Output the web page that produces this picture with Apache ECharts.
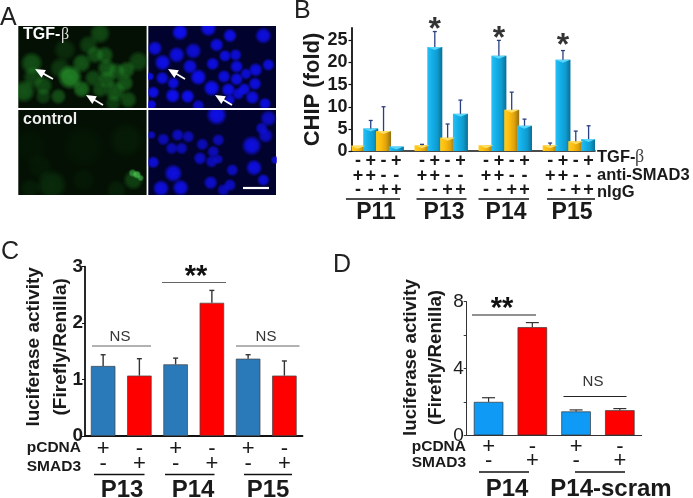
<!DOCTYPE html>
<html><head><meta charset="utf-8">
<style>html,body{margin:0;padding:0;background:#fff}#c{width:693px;height:498px}</style>
<script src="https://cdn.jsdelivr.net/npm/echarts@6/dist/echarts.min.js"></script></head>
<body><div id="c"></div>
<script>
// ---------- Panel B
const bCategories = ['1','2','3','4','g1','5','6','7','8','g2','9','10','11','12','g3','13','14','15','16'];
const bValues = [1.2,5.1,4.5,1.0,null,1.3,23.5,3.0,8.4,null,1.3,21.5,9.3,5.7,null,1.3,20.6,2.2,2.7];
const bErrTop = [1.2,6.9,10,1.0,null,1.5,27,6.1,11.5,null,1.3,25,13.3,7.2,null,1.8,22.7,4.5,5.7];
const bKinds = ['o','b','o','b',null,'o','b','o','b',null,'o','b','o','b',null,'o','b','o','b'];
const bTgf = ['-','+','-','+','','-','+','-','+','','-','+','-','+','','-','+','-','+'];
const bSmad = ['+','+','-','-','','+','+','-','-','','+','+','-','-','','+','+','-','-'];
const bIgg = ['-','-','+','+','','-','-','+','+','','-','-','+','+','','-','-','+','+'];
const bStars = [[6,27],[11,25],[16,23.4]];
const bTicks = [0,5,10,15,20,25];
// ---------- Panel C
const cCategories = ['a','b','c','d','e','f'];
const cValues = [1.24,1.07,1.27,2.36,1.37,1.07];
const cErrTop = [1.44,1.37,1.38,2.58,1.44,1.33];
const cPcdna = ['+','-','+','-','+','-'];
const cSmad = ['-','+','-','+','-','+'];
const cColors = ['#2a7ab9','#fe0000','#2a7ab9','#fe0000','#2a7ab9','#fe0000'];
// ---------- Panel D
const dCategories = ['a','b','c','d'];
const dValues = [2.0,6.47,1.43,1.5];
const dErrTop = [2.25,6.75,1.52,1.6];
const dPcdna = ['+','-','+','-'];
const dSmad = ['-','+','-','+'];
const dColors = ['#0f9bf5','#fe0000','#0f9bf5','#fe0000'];
// ---------- Panel A (cells: x, y, radius in the photo's own units, brightness)
const cellsTopGreen = [[300,100,26,.5],[265,135,24,.4],[195,150,28,.25],[285,165,22,.55],[315,165,22,.55],[95,190,28,.55],[245,190,24,.6],[180,205,26,.35],[210,232,30,1],[320,205,24,.6],[350,215,22,.55],[380,210,22,.6],[415,185,26,.45],[100,232,26,.45],[280,235,22,.5],[320,240,22,.6],[375,250,22,.6],[130,258,24,.5],[245,268,22,.75],[72,275,28,.6],[175,290,20,.55],[130,290,20,.4],[345,275,26,.6],[300,270,20,.5],[385,300,22,.5],[340,310,20,.4]];
const cellsTopBlue = [[540,97,21,1],[625,85,21,.95],[690,107,18,.95],[790,107,21,.9],[650,135,18,.9],[465,145,19,.9],[530,165,21,.9],[580,153,21,.85],[675,168,16,.9],[707,165,16,.85],[488,188,21,.95],[570,200,19,.9],[638,192,17,.9],[805,195,16,.9],[710,200,17,.9],[767,210,18,.9],[738,222,15,.85],[450,230,11,.9],[487,235,17,.9],[595,232,21,1],[672,230,17,.9],[710,238,17,.9],[520,250,16,.9],[765,252,17,.9],[635,265,21,1],[733,268,16,.9],[685,270,18,.95],[715,282,16,.85],[460,278,16,.95],[518,288,19,1],[563,290,18,1],[757,293,18,.9],[795,312,16,.9],[595,318,16,.8],[455,315,13,.9],[690,300,14,.85]];
const cellsBottomGreen = [[155,555,36,.3],[380,420,42,.12],[120,500,30,.1],[400,540,24,.55],[90,565,24,.15],[350,570,24,.18],[250,440,50,.07],[90,440,40,.06],[250,540,28,.1]];
const cellsBottomBright = [[398,519,10,.45],[411,524,10,.6],[422,534,8,.45]];
const cellsBottomBlue = [[650,345,26,1],[805,355,21,.8],[785,385,16,.8],[797,407,19,.8],[455,405,11,.75],[533,405,16,.8],[490,418,16,.75],[565,410,16,.75],[515,445,16,.75],[545,445,16,.75],[655,420,16,.75],[607,433,16,.75],[755,437,25,.95],[640,455,16,.75],[600,475,17,.8],[635,485,16,.75],[655,478,13,.7],[460,487,16,.9],[825,480,11,.85],[520,520,23,.95],[762,503,21,.95],[697,510,16,.8],[790,540,16,.9],[632,548,18,.85],[690,555,16,.8],[483,565,21,.95],[542,563,21,.95],[670,570,16,.75]];

const F = '"Liberation Sans", Arial, sans-serif';
const DARK = '#1a1a1a';

function grad(stops){return {type:'linear',x:0,y:0,x2:1,y2:0,colorStops:stops.map((c,i)=>({offset:i/(stops.length-1),color:c}))};}
const blue3d = grad(['#27c0f5','#12aee8','#0f9ccf','#0a6f96']);
const orange3d = grad(['#ffcb1e','#fdbd0d','#e0a30c','#8f7015']);

function errSeries(xi, yi, err, vals, color, capW, lw, z){
  return {type:'custom',xAxisIndex:xi,yAxisIndex:yi,z:z||5,silent:true,
    data:err.map((e,i)=>[i,vals[i],e]),
    encode:{x:0,y:[1,2]},
    renderItem(p,api){
      if(api.value(2)==null||isNaN(api.value(2))||api.value(1)==null||isNaN(api.value(1)))return;
      if(api.value(2)<=api.value(1))return;
      const a=api.coord([api.value(0),api.value(1)]),b=api.coord([api.value(0),api.value(2)]);
      const st={stroke:color,lineWidth:lw,fill:null};
      return {type:'group',children:[
        {type:'line',shape:{x1:a[0],y1:a[1],x2:b[0],y2:b[1]},style:st},
        {type:'line',shape:{x1:b[0]-capW/2,y1:b[1],x2:b[0]+capW/2,y2:b[1]},style:st}]};
    }};
}
function cellSeries(gi, data, rgb, gain, spread){
  return {type:'custom',xAxisIndex:gi,yAxisIndex:gi,clip:true,silent:true,z:2,data,
    encode:{x:0,y:1},
    renderItem(p,api){
      const c=api.coord([api.value(0),api.value(1)]);
      const r=api.size([api.value(2),0])[0], b=Math.min(1,api.value(3)*gain);
      return {type:'circle',shape:{cx:c[0],cy:c[1],r:r*spread},style:{fill:{type:'radial',x:.5,y:.5,r:.5,colorStops:[
        {offset:0,color:`rgba(${rgb},${b})`},{offset:.55,color:`rgba(${rgb},${b*.88})`},{offset:.8,color:`rgba(${rgb},${b*.4})`},{offset:1,color:`rgba(${rgb},0)`}]}}};
    }};
}
const bevelSeries = {type:'custom',xAxisIndex:4,yAxisIndex:4,z:4,silent:true,
  data:bValues.map((v,i)=>[i,v,bKinds[i]==='b'?1:0]),encode:{x:0,y:1},
  renderItem(p,api){
    if(isNaN(api.value(1))||api.value(1)==null)return;
    const c=api.coord([api.value(0),api.value(1)]);
    return {type:'polygon',shape:{points:[[c[0]-7.5,c[1]],[c[0]+7.5,c[1]],[c[0],c[1]+3]]},
      style:{fill:api.value(2)?'#5ad6fb':'#ffdf66'}};
  }};
const photoBox = [
  {l:18.3,t:26,w:128.3,h:82,x:[55,440],y:[78,325]},
  {l:148.3,t:26,w:127.7,h:82,x:[445,828],y:[78,325]},
  {l:18.3,t:110,w:128.3,h:85,x:[55,440],y:[330,585]},
  {l:148.3,t:110,w:127.7,h:85,x:[445,828],y:[330,585]}];
const grids = photoBox.map(b=>({left:b.l,top:b.t,width:b.w,height:b.h,show:true,backgroundColor:b.x[0]<100?'#031003':'#02022e',borderWidth:0}));
const xAxes = photoBox.map((b,i)=>({gridIndex:i,type:'value',min:b.x[0],max:b.x[1],show:false}));
const yAxes = photoBox.map((b,i)=>({gridIndex:i,type:'value',min:b.y[0],max:b.y[1],inverse:true,show:false}));

grids.push({left:351.5,top:28,width:243.5,height:123});
grids.push({left:85,top:266.7,width:217.5,height:169.3});
grids.push({left:466.7,top:301.7,width:175,height:133.6});

const labelRows = (rows)=>(v,i)=>rows.map(r=>r[i]).join('\n');
const axisLine=(w,c)=>({show:true,onZero:false,lineStyle:{color:c||'#111',width:w}});

xAxes.push({gridIndex:4,type:'category',data:bCategories,axisLine:axisLine(1.6),axisTick:{show:false},
  axisLabel:{interval:0,margin:3,formatter:labelRows([bTgf,bSmad,bIgg]),fontFamily:F,fontWeight:'bold',fontSize:18,lineHeight:14.4,color:DARK}});
yAxes.push({gridIndex:4,type:'value',min:0,max:27.8,
  axisLine:axisLine(1.8),splitLine:{show:false},
  axisTick:{show:true,length:3,lineStyle:{color:'#111',width:1.2},customValues:bTicks},
  axisLabel:{customValues:bTicks,margin:4,fontFamily:F,fontWeight:'bold',fontSize:18,color:DARK},
  name:'CHIP (fold)',nameLocation:'middle',nameRotate:90,nameGap:27,
  nameTextStyle:{fontFamily:F,fontWeight:'bold',fontSize:22,color:DARK,letterSpacing:.6}});

xAxes.push({gridIndex:5,type:'category',data:cCategories,axisLine:axisLine(1.8),axisTick:{show:false},
  axisLabel:{interval:0,margin:5,formatter:labelRows([cPcdna,cSmad]),fontFamily:F,fontSize:22,lineHeight:15,color:DARK}});
yAxes.push({gridIndex:5,type:'value',min:0,max:3,interval:1,axisLine:axisLine(1.8),splitLine:{show:false},
  axisTick:{show:true,length:3,lineStyle:{color:'#111'}},
  axisLabel:{margin:2,fontFamily:F,fontWeight:'bold',fontSize:19,color:DARK},
  name:'luciferase activity\n(Firefly/Renilla)',nameLocation:'middle',nameRotate:90,nameGap:11,nameMoveOverlap:false,
  nameTextStyle:{fontFamily:F,fontWeight:'bold',fontSize:19,lineHeight:27,color:DARK,padding:[0,0,0,9]}});

xAxes.push({gridIndex:6,type:'category',data:dCategories,axisLine:axisLine(1,'#333'),axisTick:{show:false},
  axisLabel:{interval:0,margin:4,formatter:labelRows([dPcdna,dSmad]),fontFamily:F,fontSize:22,lineHeight:14.7,color:DARK}});
yAxes.push({gridIndex:6,type:'value',min:0,max:8,interval:2,axisLine:axisLine(1,'#333'),splitLine:{show:false},
  axisTick:{show:true,length:3,lineStyle:{color:'#333'}},
  axisLabel:{margin:3,formatter:v=>(v%4===0?v:''),fontFamily:F,fontSize:19,color:DARK},
  name:'luciferase activity\n(Firefly/Renilla)',nameLocation:'middle',nameRotate:90,nameGap:18,
  nameTextStyle:{fontFamily:F,fontWeight:'bold',fontSize:18.7,lineHeight:25,color:DARK,padding:[0,0,0,22]}});

const series=[
  cellSeries(0,cellsTopGreen,'42,165,48',.75,1.3),
  cellSeries(1,cellsTopBlue,'15,15,245',1,1.25),
  cellSeries(2,cellsBottomGreen,'30,125,35',.8,1.35),
  cellSeries(2,cellsBottomBright,'90,240,100',1,1.3),
  cellSeries(3,cellsBottomBlue,'15,15,235',1,1.25),
  {type:'bar',xAxisIndex:4,yAxisIndex:4,barWidth:15,silent:true,z:3,
    data:bValues.map((v,i)=>({value:v,itemStyle:{color:bKinds[i]==='b'?blue3d:orange3d}}))},
  bevelSeries,
  errSeries(4,4,bErrTop,bValues,'#2a3f80',4,1.3),
  {type:'scatter',xAxisIndex:4,yAxisIndex:4,silent:true,symbolSize:0,z:6,data:bStars,
    label:{show:true,formatter:'*',position:'top',distance:-15,fontFamily:F,fontWeight:'bold',fontSize:32,color:'#000'}},
  {type:'bar',xAxisIndex:5,yAxisIndex:5,barWidth:24.5,silent:true,z:3,
    data:cValues.map((v,i)=>({value:v,itemStyle:{color:cColors[i],borderColor:'#444',borderWidth:.7}}))},
  errSeries(5,5,cErrTop,cValues,'#333',5,1.4),
  {type:'bar',xAxisIndex:6,yAxisIndex:6,barWidth:29.5,silent:true,z:3,
    data:dValues.map((v,i)=>({value:v,itemStyle:{color:dColors[i],borderColor:'#333',borderWidth:.7}}))},
  errSeries(6,6,dErrTop,dValues,'#333',13,1.2)
];

function T(x,y,text,size,o){return {type:'text',x,y,z:50,silent:true,style:Object.assign({text,fontFamily:F,fontSize:size,fill:DARK,align:'left',verticalAlign:'middle'},o||{})};}
function L(x1,x2,y,c,w){return {type:'line',z:50,silent:true,shape:{x1,y1:y,x2,y2:y},style:{stroke:c||'#111',lineWidth:w||1.3}};}
function arrow(x1,y1,x2,y2){
  const dx=x2-x1,dy=y2-y1,n=Math.hypot(dx,dy),ux=dx/n,uy=dy/n,px=-uy,py=ux;
  return [{type:'polygon',z:50,silent:true,shape:{points:[[x1,y1],[x1+ux*10+px*4.5,y1+uy*10+py*4.5],[x1+ux*10-px*4.5,y1+uy*10-py*4.5]]},style:{fill:'#fff'}},
    {type:'line',z:50,silent:true,shape:{x1:x1+ux*8,y1:y1+uy*8,x2,y2},style:{stroke:'#fff',lineWidth:1.8}}];
}
const graphic=[
  T(0,18,'A',25,{fill:'#222'}),T(294,11,'B',25,{fill:'#222'}),T(1,252,'C',25,{fill:'#222'}),T(333,265,'D',25,{fill:'#222'}),
  T(23,35,'TGF-',16,{fontWeight:'bold',fill:'#fff'}),T(61,35,'β',16,{fontFamily:'"Liberation Serif",serif',fill:'#ddd'}),
  T(23,120,'control',16,{fontWeight:'bold',fill:'#eee'}),
  ...arrow(35,69,53,79),...arrow(86,95,103,105),...arrow(168,69,185,79),...arrow(215,95,232,105),
  L(243,269,188,'#fff',2.2),
  // B
  T(597,157,'TGF-',16.5,{fontWeight:'bold'}),T(635,157,'β',18,{fontFamily:'"Liberation Serif",serif',fill:'#444'}),
  T(597,175,'anti-SMAD3',16.5,{fontWeight:'bold'}),T(597,192,'nIgG',16.5,{fontWeight:'bold'}),
  L(346,400,199),L(416.5,466.5,199),L(478.5,529,199),L(547,595,199),
  T(376,213,'P11',23,{fontWeight:'bold',align:'center'}),T(444,213,'P13',23,{fontWeight:'bold',align:'center'}),
  T(506,213,'P14',23,{fontWeight:'bold',align:'center'}),T(572,213,'P15',23,{fontWeight:'bold',align:'center'}),
  // C
  T(81,448,'pCDNA',15.5,{fontWeight:'bold',align:'right'}),T(81,467,'SMAD3',15.5,{fontWeight:'bold',align:'right'}),
  L(94,144.5,474.5),L(165,214.5,474.5),L(244,292,474.5),
  T(122,490,'P13',24,{fontWeight:'bold',align:'center'}),T(193,490,'P14',24,{fontWeight:'bold',align:'center'}),T(268,490,'P15',24,{fontWeight:'bold',align:'center'}),
  L(92,151,346,'#666',1.2),L(162,226,282.5,'#666',1.2),L(236,299.5,346,'#666',1.2),
  T(120,337,'NS',15,{align:'center',fill:'#333'}),T(266,337,'NS',15,{align:'center',fill:'#333'}),
  T(196,277,'**',29,{fontWeight:'bold',align:'center',fill:'#111'}),
  // D
  T(466,447,'pCDNA',15.5,{fontWeight:'bold',align:'right'}),T(466,463,'SMAD3',15.5,{fontWeight:'bold',align:'right'}),
  L(479,529,472),L(575,625,472),
  T(507,489,'P14',24,{fontWeight:'bold',align:'center'}),T(611,489,'P14-scram',24,{fontWeight:'bold',align:'center'}),
  L(472,536,315,'#222',1.2),L(563.5,626.5,396.5,'#222',1.2),
  T(593,382,'NS',15,{align:'center',fill:'#333'}),
  T(502,309,'**',29,{fontWeight:'bold',align:'center',fill:'#111'})
];
const chart=echarts.init(document.getElementById('c'),null,{renderer:'canvas'});
chart.setOption({animation:false,backgroundColor:'#fff',grid:grids,xAxis:xAxes,yAxis:yAxes,series,graphic:{elements:graphic}});
</script></body></html>
